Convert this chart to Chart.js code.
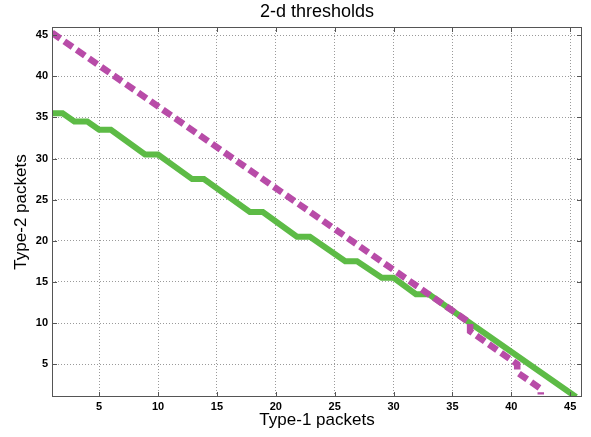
<!DOCTYPE html>
<html>
<head>
<meta charset="utf-8">
<script src="https://cdn.jsdelivr.net/npm/chart.js@4"></script>
<style>
  html, body { margin: 0; padding: 0; background: #fff; }
  #wrap { width: 591px; height: 437px; }
</style>
</head>
<body>
<div id="wrap"><canvas id="grafico"></canvas></div>
<script>
// datos
const umbralX = [1, 36.5, 36.5, 40.5, 40.5, 42.5, 42.5];
const umbralY = [45.3, 10, 9, 5, 4, 2, 1.3];

const escalonX = [1, 1.9, 2.9, 4.0, 5.0, 6.0, 8.9, 10.0, 12.9, 13.9, 17.8, 18.9, 21.8, 22.9, 25.9, 26.9, 29.0, 30.0, 31.9, 33.0, 45.5];
const escalonY = [35.5, 35.5, 34.5, 34.5, 33.5, 33.5, 30.5, 30.5, 27.5, 27.5, 23.5, 23.5, 20.5, 20.5, 17.5, 17.5, 15.5, 15.5, 13.5, 13.5, 1];

const ticksX = [5, 10, 15, 20, 25, 30, 35, 40, 45];
const ticksY = [5, 10, 15, 20, 25, 30, 35, 40, 45];

const puntos = (xs, ys) => xs.map((x, i) => ({ x: x, y: ys[i] }));

// caja alrededor del area + marcas hacia dentro (estilo matlab)
const cajaEjes = {
    id: 'cajaEjes',
    afterLayout(chart) {
        // centrar el titulo sobre el area del grafico
        const t = chart.titleBlock;
        if (t) {
            t.left = chart.chartArea.left;
            t.right = chart.chartArea.right;
            t.width = t.right - t.left;
        }
    },
    afterDatasetsDraw(chart) {
        const { ctx, chartArea: a, scales } = chart;
        ctx.save();
        ctx.strokeStyle = '#555';
        ctx.lineWidth = 1;
        ctx.strokeRect(a.left + 0.5, a.top + 0.5, a.right - a.left - 1, a.bottom - a.top - 1);
        ctx.beginPath();
        ticksX.forEach(v => {
            const px = Math.round(scales.x.getPixelForValue(v)) + 0.5;
            ctx.moveTo(px, a.bottom); ctx.lineTo(px, a.bottom - 5);
            ctx.moveTo(px, a.top); ctx.lineTo(px, a.top + 5);
        });
        ticksY.forEach(v => {
            const py = Math.round(scales.y.getPixelForValue(v)) + 0.5;
            ctx.moveTo(a.left, py); ctx.lineTo(a.left + 5, py);
            ctx.moveTo(a.right, py); ctx.lineTo(a.right - 5, py);
        });
        ctx.stroke();
        ctx.restore();
    }
};

const rejilla = {
    color: '#9a9a9a',
    lineWidth: 1,
    drawTicks: false
};
const bordePunteado = { display: false, dash: [1, 2] };

new Chart(document.getElementById('grafico').getContext('2d'), {
    type: 'scatter',
    data: {
        datasets: [{
            label: 'umbral',
            data: puntos(umbralX, umbralY),
            showLine: true,
            borderColor: '#b84ca8',
            backgroundColor: '#b84ca8',
            borderWidth: 6.5,
            borderDash: [10, 5],
            pointRadius: 0
        }, {
            label: 'escalon',
            data: puntos(escalonX, escalonY),
            showLine: true,
            borderColor: '#5dbb46',
            backgroundColor: '#5dbb46',
            borderWidth: 6,
            pointRadius: 0
        }]
    },
    options: {
        responsive: true,
        maintainAspectRatio: false,
        animation: false,
        layout: { padding: { top: 0, right: 9, left: 0, bottom: 0 } },
        plugins: {
            legend: { display: false },
            tooltip: { enabled: false },
            title: {
                display: true,
                text: '2-d thresholds',
                color: '#000',
                font: { family: 'Liberation Sans', size: 18, weight: 'normal', lineHeight: 1.2 },
                padding: { top: 1, bottom: 4.4 }
            }
        },
        scales: {
            x: {
                type: 'linear',
                min: 1,
                max: 46,
                afterBuildTicks: s => { s.ticks = ticksX.map(v => ({ value: v })); },
                afterFit: s => { s.height = 40; },
                grid: rejilla,
                border: bordePunteado,
                ticks: {
                    padding: 3,
                    color: '#000',
                    font: { family: 'Liberation Sans', size: 11, weight: 'bold' }
                },
                title: {
                    display: true,
                    text: 'Type-1 packets',
                    color: '#000',
                    font: { family: 'Liberation Sans', size: 17, weight: 'normal', lineHeight: 1.2 },
                    padding: { top: 0, bottom: 6 }
                }
            },
            y: {
                type: 'linear',
                min: 1,
                max: 46,
                afterBuildTicks: s => { s.ticks = ticksY.map(v => ({ value: v })); },
                afterFit: s => { s.width = 52; },
                grid: rejilla,
                border: bordePunteado,
                ticks: {
                    padding: 4,
                    color: '#000',
                    font: { family: 'Liberation Sans', size: 11, weight: 'bold' }
                },
                title: {
                    display: true,
                    text: 'Type-2 packets',
                    color: '#000',
                    font: { family: 'Liberation Sans', size: 17, weight: 'normal', lineHeight: 1.2 },
                    padding: { top: 11, bottom: 0 }
                }
            }
        }
    },
    plugins: [cajaEjes]
});
</script>
</body>
</html>
